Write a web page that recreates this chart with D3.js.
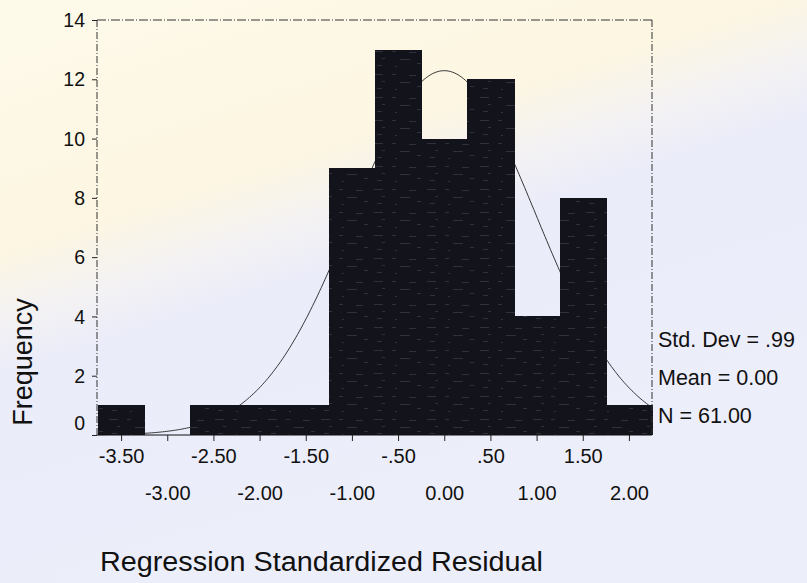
<!DOCTYPE html>
<html>
<head>
<meta charset="utf-8">
<script src="https://cdn.jsdelivr.net/npm/d3@7"></script>
<style>
  html, body { margin: 0; padding: 0; background: #ffffff; }
  svg { display: block; }
  text { font-family: "Liberation Sans", Arial, sans-serif; fill: #111; }
</style>
</head>
<body>
<svg id="chart" width="807" height="583"></svg>
<script>
// ---- data ----
const binCenters = [-3.5, -3.0, -2.5, -2.0, -1.5, -1.0, -0.5, 0.0, 0.5, 1.0, 1.5, 2.0];
const frequencies = [1, 0, 1, 1, 1, 9, 13, 10, 12, 4, 8, 1];
const yTickValues = [0, 2, 4, 6, 8, 10, 12, 14];
const xTickValues = [-3.5, -3.0, -2.5, -2.0, -1.5, -1.0, -0.5, 0.0, 0.5, 1.0, 1.5, 2.0];
const xTickLabels = ["-3.50", "-3.00", "-2.50", "-2.00", "-1.50", "-1.00", "-.50", "0.00", ".50", "1.00", "1.50", "2.00"];
const statLines = ["Std. Dev = .99", "Mean = 0.00", "N = 61.00"];
const curveMean = 0.0, curveSd = 0.99, curveN = 61, binWidth = 0.5;
const xTitle = "Regression Standardized Residual";
const yTitle = "Frequency";

// ---- layout ----
const svg = d3.select("#chart");
const pLeft = 98, pRight = 652, pTop = 20, pBottom = 435;

const defs = svg.append("defs");
// background tint (scanned page watermark)
const bg = defs.append("linearGradient").attr("id", "bg")
  .attr("gradientUnits", "userSpaceOnUse")
  .attr("x1", 0).attr("y1", 0).attr("x2", 184).attr("y2", 571);
bg.append("stop").attr("offset", "0%").attr("stop-color", "#fefaea");
bg.append("stop").attr("offset", "40%").attr("stop-color", "#fcf6e2");
bg.append("stop").attr("offset", "50%").attr("stop-color", "#f4f2f2");
bg.append("stop").attr("offset", "60%").attr("stop-color", "#ebecfa");
bg.append("stop").attr("offset", "100%").attr("stop-color", "#eceefa");
svg.append("rect").attr("width", 807).attr("height", 583).attr("fill", "url(#bg)");

// bar texture: dark fill with faint, sparse scan speckle
const pat = defs.append("pattern").attr("id", "barfill")
  .attr("patternUnits", "userSpaceOnUse").attr("width", 53).attr("height", 23);
pat.append("rect").attr("width", 53).attr("height", 23).attr("fill", "#13131b");
[[3, 5, 9], [21, 5, 4], [38, 6, 7], [11, 12, 3], [29, 13, 10], [46, 17, 4], [6, 19, 5], [24, 20, 2]].forEach(([px, py, w]) => {
  pat.append("rect").attr("x", px).attr("y", py).attr("width", w).attr("height", 0.7).attr("fill", "#3e3e48");
});

const x = d3.scaleLinear().domain([-3.75, 2.25]).range([pLeft, pRight]);
const y = d3.scaleLinear().domain([0, 14]).range([pBottom, pTop]);

// normal curve from the displayed statistics (drawn first: hidden behind black bars as in original)
const peak = curveN * binWidth / (curveSd * Math.sqrt(2 * Math.PI));
const curvePts = d3.range(-3.75, 2.2501, 0.02).map(v => [v, peak * Math.exp(-((v - curveMean) ** 2) / (2 * curveSd * curveSd))]);
svg.append("path")
  .datum(curvePts)
  .attr("fill", "none")
  .attr("stroke", "#222")
  .attr("stroke-width", 0.9)
  .attr("d", d3.line().x(d => x(d[0])).y(d => y(d[1])));

// bars
svg.append("g").attr("shape-rendering", "crispEdges").selectAll("rect")
  .data(binCenters.map((c, i) => ({ c, f: frequencies[i] })))
  .join("rect")
  .attr("x", d => Math.round(x(d.c - binWidth / 2)))
  .attr("width", d => Math.round(x(d.c + binWidth / 2)) - Math.round(x(d.c - binWidth / 2)) + 1)
  .attr("y", d => y(d.f))
  .attr("height", d => y(0) - y(d.f))
  .attr("fill", "url(#barfill)");

// frame (dash-dot like original)
const frame = svg.append("g").attr("stroke", "#333").attr("stroke-width", 1).attr("fill", "none");
frame.append("line").attr("x1", pLeft - 1).attr("x2", pLeft - 1).attr("y1", pTop).attr("y2", pBottom).attr("stroke-dasharray", "7,2,1,2");
frame.append("line").attr("x1", pLeft - 1).attr("x2", pRight).attr("y1", pTop).attr("y2", pTop).attr("stroke-dasharray", "9,2,1,2");
frame.append("line").attr("x1", pRight).attr("x2", pRight).attr("y1", pTop).attr("y2", pBottom).attr("stroke-dasharray", "7,2,1,2");

// y axis
const yAxis = svg.append("g")
  .attr("transform", `translate(${pLeft - 1},0)`)
  .call(d3.axisLeft(y).tickValues(yTickValues).tickSize(5).tickPadding(7).tickFormat(d3.format("d")));
yAxis.select(".domain").remove();
yAxis.selectAll("line").attr("stroke", "#222");
yAxis.selectAll("text")
  .style("font-family", '"Liberation Sans", Arial, sans-serif')
  .style("font-size", "19.5px")
  .attr("fill", "#111")
  .attr("dy", d => d === 0 ? "-0.28em" : "0.34em");

// x axis
const xAxis = svg.append("g")
  .attr("transform", `translate(0,${pBottom})`)
  .call(d3.axisBottom(x).tickValues(xTickValues).tickSize(6).tickFormat((d, i) => xTickLabels[i]));
xAxis.select(".domain").attr("d", `M${pLeft - 1},0H${pRight}`).attr("stroke", "#111").attr("stroke-width", 1.2);
xAxis.selectAll("line").attr("stroke", "#222");
xAxis.selectAll("text")
  .style("font-family", '"Liberation Sans", Arial, sans-serif')
  .style("font-size", "20px")
  .attr("fill", "#111")
  .attr("dy", 0)
  .attr("y", (d, i) => i % 2 === 0 ? 28 : 65);

// statistics
svg.append("g").selectAll("text")
  .data(statLines)
  .join("text")
  .attr("x", 658)
  .attr("y", (d, i) => 347 + i * 38)
  .style("font-size", "21.5px")
  .text(d => d);

// axis titles
svg.append("text")
  .attr("x", 100)
  .attr("y", 571)
  .style("font-size", "27px")
  .attr("textLength", 443)
  .attr("lengthAdjust", "spacingAndGlyphs")
  .text(xTitle);

svg.append("text")
  .attr("transform", "translate(32,362) rotate(-90)")
  .attr("text-anchor", "middle")
  .style("font-size", "27px")
  .text(yTitle);
</script>
</body>
</html>
